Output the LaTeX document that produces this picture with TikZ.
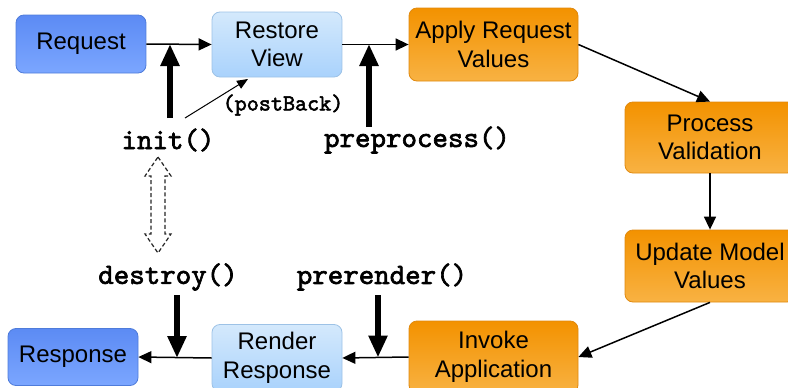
\documentclass[tikz,border=0pt]{standalone}
\usepackage{fontspec}
\setmainfont{Liberation Sans}
\newfontfamily\codefont[FakeBold=2.2]{lmmono10-regular.otf}
\usetikzlibrary{arrows.meta}

\definecolor{blueTop}{HTML}{5C8BF4}
\definecolor{blueBot}{HTML}{7BA6FF}
\definecolor{blueEdge}{HTML}{4F7CDA}
\definecolor{paleTop}{HTML}{D4E9FC}
\definecolor{paleBot}{HTML}{A9D2FC}
\definecolor{paleEdge}{HTML}{9DC2E6}
\definecolor{orangeTop}{HTML}{F39200}
\definecolor{orangeBot}{HTML}{F8B243}
\definecolor{orangeEdge}{HTML}{E0890E}

\tikzset{
  phase/.style={rounded corners=8pt, align=center, inner sep=0pt,
    font=\fontsize{24}{28.5}\selectfont, text=black, line width=0.8pt},
  dark/.style={phase, draw=blueEdge, top color=blueTop, bottom color=blueBot},
  pale/.style={phase, draw=paleEdge, top color=paleTop, bottom color=paleBot},
  busy/.style={phase, draw=orangeEdge, top color=orangeTop, bottom color=orangeBot},
  hook/.style={font=\codefont\fontsize{29.5}{32}\selectfont, inner sep=0pt},
  smallhook/.style={font=\codefont\fontsize{23}{26}\selectfont, inner sep=0pt},
  flow/.style={line width=1.5pt, -{Triangle[width=12pt,length=13pt]}},
  call/.style={line width=5.5pt, -{Triangle[width=18pt,length=22pt]}},
  hint/.style={line width=1pt, -{Triangle[width=9pt,length=11pt]}},
  lifecycle/.style={line width=1.2pt, draw=black!85, dash pattern=on 4pt off 2.5pt, fill=white}
}

\begin{document}
\begin{tikzpicture}[x=1pt, y=-1pt]
  \useasboundingbox (0,0) rectangle (788,388);
  \begin{scope}
  \clip (0,0) rectangle (788,388);

  % phases of the request cycle
  \node[dark, minimum width=130pt, minimum height=58pt] (req) at (81,44) {Request};
  \node[pale, minimum width=130pt, minimum height=65pt] (restore) at (277,44.5) {Restore\\View};
  \node[busy, minimum width=169pt, minimum height=73pt] (apply) at (493.5,44.5) {Apply Request\\Values};
  \node[busy, minimum width=170pt, minimum height=71pt] (proc) at (710,137.5) {Process\\Validation};
  \node[busy, minimum width=170pt, minimum height=72pt] (update) at (710,266) {Update Model\\Values};
  \node[busy, minimum width=169pt, minimum height=72pt] (invoke) at (493.5,357) {Invoke\\Application};
  \node[pale, minimum width=130pt, minimum height=67pt] (render) at (277,358) {Render\\Response};
  \node[dark, minimum width=130pt, minimum height=57pt] (resp) at (73,357) {Response};

  % flow between phases
  \draw[flow] (req.east) -- (restore.west);
  \draw[flow] (restore.east) -- (apply.west);
  \draw[flow] (apply.east) -- (proc.north);
  \draw[flow] (proc.south) -- (update.north);
  \draw[flow] (update.south) -- (invoke.east);
  \draw[flow] (invoke.west) -- (render.east);
  \draw[flow] (render.west) -- (resp.east);

  % page bean callbacks
  \node[hook] (init) at (168,140) {init()};
  \node[hook] (pre) at (417,140) {preprocess()};
  \node[smallhook] (pb) at (283,105) {(postBack)};
  \node[hook] (destroy) at (168,277) {destroy()};
  \node[hook] (prerender) at (382,277) {prerender()};

  \coordinate (initFrom) at (170,118);
  \coordinate (initTo) at (170,44);
  \coordinate (preFrom) at (369,127);
  \coordinate (preTo) at (369,44);
  \coordinate (pbFrom) at (185,118);
  \coordinate (pbTo) at (248,79);
  \coordinate (destroyFrom) at (177,295);
  \coordinate (destroyTo) at (177,358);
  \coordinate (prerenderFrom) at (378,295);
  \coordinate (prerenderTo) at (378,357.5);

  \draw[call] (initFrom) -- (initTo);
  \draw[call] (preFrom) -- (preTo);
  \draw[call] (destroyFrom) -- (destroyTo);
  \draw[call] (prerenderFrom) -- (prerenderTo);
  \draw[hint] (pbFrom) -- (pbTo);

  % lifetime of the page bean between init() and destroy()
  \draw[lifecycle] (158,157) -- (171,176) -- (165,176) -- (165,234) -- (171,234)
    -- (158,253) -- (145,234) -- (151,234) -- (151,176) -- (145,176) -- cycle;
  \end{scope}
\end{tikzpicture}
\end{document}
